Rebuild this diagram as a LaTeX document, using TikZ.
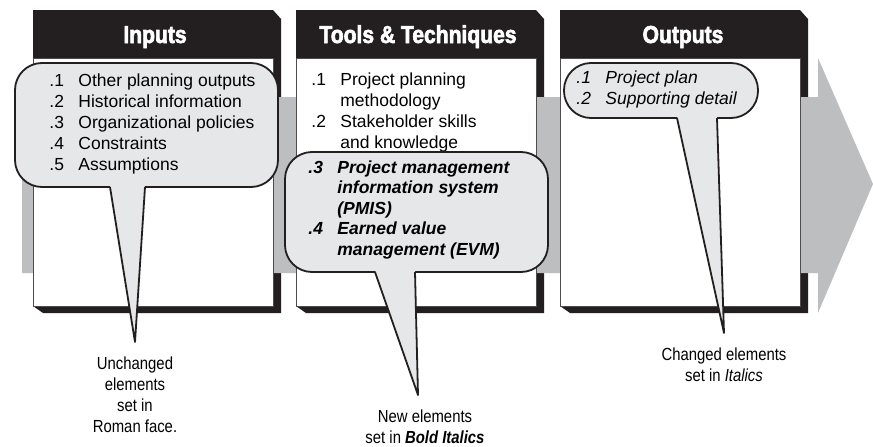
\documentclass[tikz,border=0pt]{standalone}
\usepackage{fontspec}
\setmainfont{Liberation Sans}
\newfontfamily\headfont[FakeStretch=0.86,FakeBold=2.5]{Liberation Sans Bold}
\newfontfamily\notefont[FakeStretch=0.85]{Liberation Sans}
\usetikzlibrary{positioning}
\definecolor{panelblack}{HTML}{231F20}
\definecolor{bandgray}{HTML}{BCBEC0}
\definecolor{calloutgray}{HTML}{E6E7E8}
\newcommand{\lstitem}[2]{\makebox[29pt][l]{#1}#2}
\newcommand{\lstcont}[1]{\hspace*{29pt}#1}

\begin{document}
\begin{tikzpicture}[x=1pt, y=-1pt, thick]
    % Define styles
    \tikzstyle{panelbody} = [rectangle, draw=panelblack!80, line width=0.8pt, fill=white, anchor=north west, minimum width=240pt, minimum height=248pt, inner sep=0pt, outer sep=0pt]
    \tikzstyle{heading} = [text=white, anchor=base, inner sep=0pt, font=\headfont\fontsize{24.5}{28}\selectfont]
    \tikzstyle{listtext} = [anchor=north west, inner sep=0pt, align=left, font=\fontsize{17.5}{21}\selectfont]
    \tikzstyle{callout} = [rectangle, draw=panelblack, line width=1.8pt, fill=calloutgray, rounded corners=27pt, inner sep=0pt, outer sep=0pt]
    \tikzstyle{tail} = [draw=panelblack, line width=1.8pt, line join=round]
    \tikzstyle{note} = [align=center, inner sep=0pt, font=\notefont\fontsize{17.5}{21}\selectfont]

    \useasboundingbox (0,0) rectangle (873,447);

    % Panel frames with their dark edges
    \fill[panelblack] (33,10) -- (273,10) -- (281,19) -- (281,313) -- (43,313) -- (33,306) -- cycle;
    \fill[panelblack] (296,10) -- (536,10) -- (544,19) -- (544,313) -- (306,313) -- (296,306) -- cycle;
    \fill[panelblack] (560,10) -- (800,10) -- (808,19) -- (808,313) -- (570,313) -- (560,306) -- cycle;

    % Flow arrow behind the panels
    \fill[bandgray] (22,97) -- (818,97) -- (818,58) -- (873,184) -- (818,313) -- (818,273) -- (22,273) -- cycle;

    % Place nodes - panel bodies
    \node[panelbody] (inbody) at (33,58) {};
    \node[panelbody] (ttbody) at (296,58) {};
    \node[panelbody] (outbody) at (560,58) {};

    % Place nodes - headings
    \node[heading] (inhead) at (155,43) {Inputs};
    \node[heading] (tthead) at (418,43) {Tools \& Techniques};
    \node[heading] (outhead) at (683,43) {Outputs};

    % Plain list in tools panel
    \node[listtext] (ttlist) at (311,70.3) {\strut\lstitem{.1}{Project planning}\\ \lstcont{methodology}\\ \lstitem{.2}{Stakeholder skills}\\ \lstcont{and knowledge}};

    % Place nodes - callouts
    \node[callout, minimum width=263pt, minimum height=124pt] (incall) at (146.5,125) {};
    \node[callout, minimum width=263pt, minimum height=120pt] (ttcall) at (416.5,212) {};
    \node[callout, minimum width=194pt, minimum height=55pt] (outcall) at (661,90.5) {};

    \node[listtext] (inlist) at ([xshift=34pt,yshift=-8.3pt]incall.north west) {\strut\lstitem{.1}{Other planning outputs}\\ \lstitem{.2}{Historical information}\\ \lstitem{.3}{Organizational policies}\\ \lstitem{.4}{Constraints}\\ \lstitem{.5}{Assumptions}};
    \node[listtext, font=\fontsize{17.5}{20.5}\selectfont\bfseries\itshape] (ttnew) at ([xshift=23pt,yshift=-6.6pt]ttcall.north west) {\strut\lstitem{.3}{Project management}\\ \lstcont{information system}\\ \lstcont{(PMIS)}\\ \lstitem{.4}{Earned value}\\ \lstcont{management (EVM)}};
    \node[listtext, font=\fontsize{17.5}{21}\selectfont\itshape] (outlist) at ([xshift=12pt,yshift=-5.3pt]outcall.north west) {\strut\lstitem{.1}{Project plan}\\ \lstitem{.2}{Supporting detail}};

    % Tails of the callouts
    \coordinate (intip) at (135,342);
    \coordinate (tttip) at (418,395);
    \coordinate (outtip) at (724,333);

    \fill[calloutgray] ([xshift=-36.5pt,yshift=2pt]incall.south) -- (intip) -- ([xshift=-1.5pt,yshift=2pt]incall.south) -- cycle;
    \draw[tail] ([xshift=-36.5pt]incall.south) -- (intip) -- ([xshift=-1.5pt]incall.south);
    \fill[calloutgray] ([xshift=-41.5pt,yshift=2pt]ttcall.south) -- (tttip) -- ([xshift=-1.5pt,yshift=2pt]ttcall.south) -- cycle;
    \draw[tail] ([xshift=-41.5pt]ttcall.south) -- (tttip) -- ([xshift=-1.5pt]ttcall.south);
    \fill[calloutgray] ([xshift=16pt,yshift=2pt]outcall.south) -- (outtip) -- ([xshift=56pt,yshift=2pt]outcall.south) -- cycle;
    \draw[tail] ([xshift=16pt]outcall.south) -- (outtip) -- ([xshift=56pt]outcall.south);

    % Place nodes - notes
    \node[note, below=14pt of intip] (innote) {Unchanged\\elements\\set in\\Roman face.};
    \node[note, below=14pt of tttip, xshift=7pt] (ttnote) {New elements\\set in \textbf{\textit{Bold Italics}}};
    \node[note, below=14pt of outtip] (outnote) {Changed elements\\set in \textit{Italics}};

\end{tikzpicture}
\end{document}
